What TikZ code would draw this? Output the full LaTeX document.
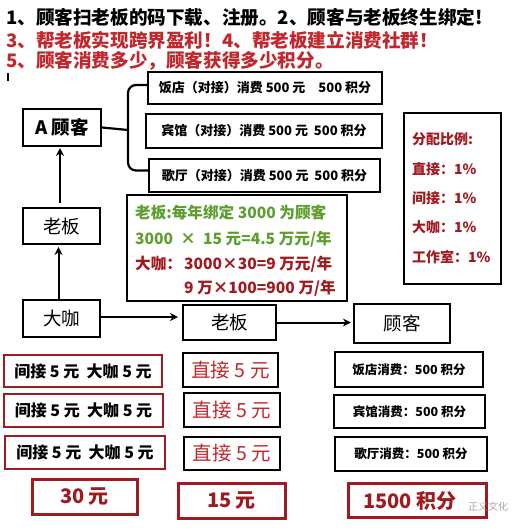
\documentclass[tikz,border=0pt]{standalone}
\usepackage{fontspec}
\setmainfont{Noto Sans CJK SC}
\usetikzlibrary{arrows.meta,calc}
\definecolor{hred}{HTML}{C0282D}
\definecolor{dred}{HTML}{A3181E}
\definecolor{bred}{HTML}{9E1B20}
\definecolor{tgreen}{HTML}{5E9E2E}
\tikzset{
  bx/.style={draw=black, line width=2.2pt, inner sep=0pt, align=center},
  thinbx/.style={draw=black, line width=1.3pt, inner sep=0pt},
  rbx/.style={draw=bred, line width=2.2pt, inner sep=0pt, align=center},
  tbx/.style={draw=bred, line width=3pt, inner sep=0pt, align=center},
  conn/.style={line width=2.2pt, draw=black},
  arr/.style={line width=2pt, draw=black, -{Stealth[length=8pt,width=8pt]}},
  head/.style={anchor=west, inner sep=0pt, font=\bfseries\fontsize{18.6}{20}\selectfont},
  gtxt/.style={anchor=west, inner sep=0pt, font=\bfseries\fontsize{15.6}{18}\selectfont},
  ftxt/.style={anchor=west, inner sep=0pt, text=dred, font=\bfseries\fontsize{14}{16}\selectfont},
  nm/.style={font=\fontsize{18.5}{20}\selectfont},
  sm/.style={font=\bfseries\fontsize{13}{15}\selectfont},
  rs/.style={font=\bfseries\fontsize{12.5}{14}\selectfont},
}
\begin{document}
\begin{tikzpicture}[x=1pt,y=-1pt]
\useasboundingbox (0,0) rectangle (519,531);
\fill[white] (0,0) rectangle (519,531);
% headings
\node[head] (h1) at (6,17) {1、顾客扫老板的码下载、注册。2、顾客与老板终生绑定!};
\node[head, text=hred] (h2) at (6,40) {3、帮老板实现跨界盈利！4、帮老板建立消费社群！};
\node[head, text=hred] (h3) at (6,61) {5、顾客消费多少，顾客获得多少积分。};
\draw[line width=1.4pt] (8,73) -- (8,81);
% top-left tree
\node[bx, minimum width=78pt, minimum height=37pt, font=\bfseries\fontsize{18.5}{20}\selectfont] (ag) at (62,127.5) {A 顾客};
\node[bx, minimum width=234pt, minimum height=32pt, sm] (b1) at (265,88) {饭店（对接）消费 500 元\quad 500 积分};
\node[bx, minimum width=236pt, minimum height=34pt, sm] (b2) at (264,131) {宾馆（对接）消费 500 元\ \ 500 积分};
\node[bx, minimum width=231pt, minimum height=33pt, sm] (b3) at (264.5,175.5) {歌厅（对接）消费 500 元\ \ 500 积分};
\coordinate (brk) at (128,130);
\draw[conn] (ag.east) -- (brk);
\draw[conn, rounded corners=8pt] ($(b1.west)+(0,-3)$) -| (brk) |- ($(b3.west)+(0,-5)$);
% green box
\node[thinbx, minimum width=220pt, minimum height=106pt] (gb) at (237,248) {};
\node[gtxt, text=tgreen] (g1) at (135,213) {老板:每年绑定 3000 为顾客};
\node[gtxt, text=tgreen] (g2) at (135,239) {3000 \ ×\ \ 15 元=4.5 万元/年};
\node[gtxt, text=dred] (g3) at (135,264) {大咖：};
\node[gtxt, text=dred] (g3b) at (184,264) {3000×30=9 万元/年};
\node[gtxt, text=dred] (g4) at (184,288) {9 万×100=900 万/年};
% distribution box
\node[thinbx, minimum width=97pt, minimum height=171pt] (fp) at (452.5,198.5) {};
\node[ftxt] (f1) at (412,139) {分配比例:};
\node[ftxt] (f2) at (412,169) {直接：1\%};
\node[ftxt] (f3) at (412,198) {间接：1\%};
\node[ftxt] (f4) at (412,227) {大咖：1\%};
\node[ftxt] (f5) at (412,257) {工作室：1\%};
% left column
\node[bx, minimum width=77pt, minimum height=36pt, nm] (lb1) at (61.5,226) {老板};
\node[bx, minimum width=77pt, minimum height=37pt, nm] (dk) at (61.5,318.5) {大咖};
\node[bx, minimum width=93pt, minimum height=35pt, nm] (lb2) at (229.5,322.5) {老板};
\node[bx, minimum width=96pt, minimum height=39pt, nm] (gk) at (402,323.5) {顾客};
\coordinate (a1s) at (58.5,300);
\coordinate (a1e) at (58.5,244);
\coordinate (a2s) at (60,208);
\coordinate (a2e) at (60,146);
\draw[arr, shorten >=3pt] (a1s) -- (a1e);
\draw[arr, shorten >=2pt, shorten <=5pt] (a2s) -- (a2e);
\coordinate (a3s) at (100,317);
\coordinate (a3e) at (183,317);
\draw[arr, shorten >=5pt] (a3s) -- (a3e);
\draw[arr, shorten >=2pt] (lb2.east) -- (lb2.east -| gk.west);
% rows
\node[rbx, minimum width=158pt, minimum height=32pt, font=\bfseries\fontsize{16}{17}\selectfont] (l1) at (83,371) {间接 5 元\ \ 大咖 5 元};
\node[rbx, minimum width=159pt, minimum height=33pt, font=\bfseries\fontsize{16}{17}\selectfont] (l2) at (83.5,410.5) {间接 5 元\ \ 大咖 5 元};
\node[rbx, minimum width=160pt, minimum height=33pt, font=\bfseries\fontsize{16}{17}\selectfont] (l3) at (85,452.5) {间接 5 元\ \ 大咖 5 元};
\node[bx, minimum width=95pt, minimum height=34pt, text=hred, font=\fontsize{19.5}{21}\selectfont] (m1) at (230.5,370) {直接 5 元};
\node[bx, minimum width=96pt, minimum height=34pt, text=hred, font=\fontsize{19.5}{21}\selectfont] (m2) at (232,410) {直接 5 元};
\node[bx, minimum width=96pt, minimum height=33pt, text=hred, font=\fontsize{19.5}{21}\selectfont] (m3) at (232,453.5) {直接 5 元};
\node[bx, minimum width=148pt, minimum height=35pt, rs] (r1) at (409,369.5) {饭店消费：500 积分};
\node[bx, minimum width=151pt, minimum height=33pt, rs] (r2) at (409.5,411.5) {宾馆消费：500 积分};
\node[bx, minimum width=152pt, minimum height=34pt, rs] (r3) at (411,454) {歌厅消费：500 积分};
% totals
\node[tbx, minimum width=105pt, minimum height=35pt, text=bred, font=\bfseries\fontsize{20}{22}\selectfont] (t1) at (84.5,496.5) {30 元};
\node[tbx, minimum width=107pt, minimum height=35pt, text=bred, font=\bfseries\fontsize{20}{22}\selectfont] (t2) at (231.5,500.5) {15 元};
\node[tbx, minimum width=138pt, minimum height=34pt, text=bred, font=\bfseries\fontsize{20}{22}\selectfont, text depth=0pt] (t3) at (417,500) {1500 积分\hspace{14pt}};
% watermark
\node[text=gray, opacity=0.7, inner sep=0pt, font=\fontsize{10}{12}\selectfont] (wm) at (488,507) {正义文化};
\end{tikzpicture}
\end{document}
